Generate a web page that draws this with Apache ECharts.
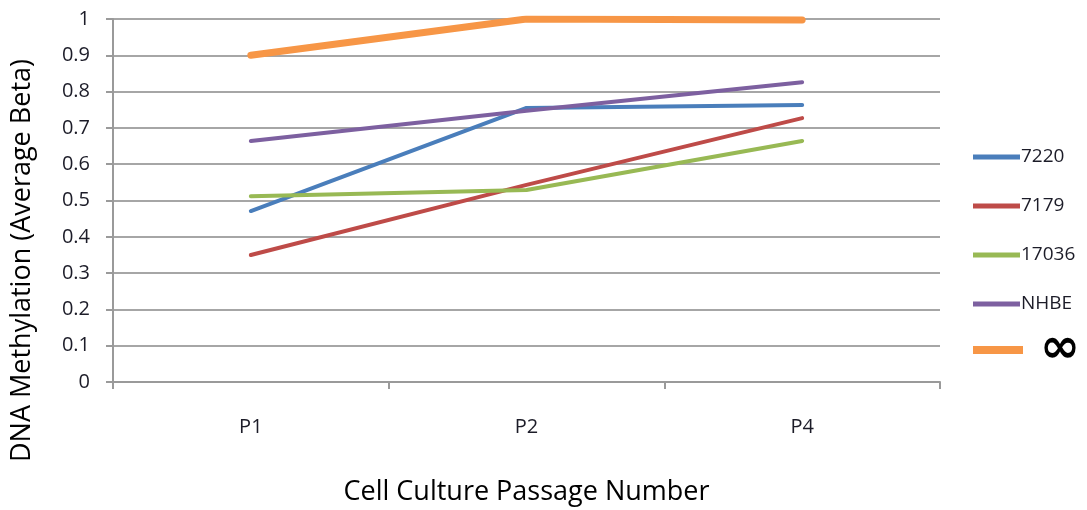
<!DOCTYPE html>
<html>
<head>
<meta charset="utf-8">
<script src="https://cdn.jsdelivr.net/npm/echarts@6/dist/echarts.min.js"></script>
<style>
  html, body { margin: 0; padding: 0; background: #fff; }
  #chart { width: 1087px; height: 510px; }
</style>
</head>
<body>
<div id="chart"></div>
<script>
// Passage categories and mean beta values per cell line
const passages = ['P1', 'P2', 'P4'];
const s7220 = [0.471, 0.755, 0.763];
const s7179 = [0.350, 0.543, 0.727];
const s17036 = [0.512, 0.529, 0.664];
const sNHBE = [0.664, 0.747, 0.826];
const sInf = [0.900, 1.000, 0.997];
const yTicks = [0, 0.1, 0.2, 0.3, 0.4, 0.5, 0.6, 0.7, 0.8, 0.9, 1];

const FONT = '"Open Sans", sans-serif';
const colors = {
  '7220': '#4a7ebb',
  '7179': '#be4b48',
  '17036': '#98b954',
  'NHBE': '#7d60a0',
  '∞': '#f79646'
};

function lineSeries(name, data, width) {
  return {
    name: name,
    type: 'line',
    data: data,
    symbol: 'none',
    color: colors[name],
    lineStyle: { color: colors[name], width: width, cap: 'round' },
    emphasis: { disabled: true },
    animation: false
  };
}

const chart = echarts.init(document.getElementById('chart'));
chart.setOption({
  backgroundColor: '#ffffff',
  animation: false,
  grid: { left: 113, right: 147, top: 19, bottom: 128, containLabel: false, outerBoundsMode: 'none' },
  xAxis: {
    type: 'category',
    data: passages,
    boundaryGap: true,
    name: 'Cell Culture Passage Number',
    nameLocation: 'middle',
    nameGap: 97,
    nameTextStyle: { fontFamily: FONT, fontSize: 27, color: '#000' },
    axisLine: { show: true, lineStyle: { color: '#9a9a9a', width: 2 } },
    axisTick: { show: true, alignWithLabel: false, length: 7, lineStyle: { color: '#9a9a9a', width: 2 } },
    axisLabel: { margin: 35, fontFamily: FONT, fontSize: 20, color: '#1c1c28' },
    splitLine: { show: false }
  },
  yAxis: {
    type: 'value',
    min: 0,
    max: 1,
    interval: 0.1,
    name: 'DNA Methylation (Average Beta)',
    nameLocation: 'middle',
    nameGap: 77,
    nameRotate: 90,
    nameTextStyle: { fontFamily: FONT, fontSize: 27, color: '#000', padding: [0, 120, 0, 0] },
    axisLine: { show: true, lineStyle: { color: '#9a9a9a', width: 2 } },
    axisTick: { show: true, length: 7, lineStyle: { color: '#9a9a9a', width: 2 } },
    axisLabel: {
      margin: 23, fontFamily: FONT, fontSize: 20, color: '#1c1c28',
      formatter: function (v) {
        const t = yTicks.find(function (k) { return Math.abs(k - v) < 1e-6; });
        return t === undefined ? '' : String(t);
      }
    },
    splitLine: { show: true, lineStyle: { color: '#a6a6a6', width: 2 } }
  },
  legend: [
    {
      orient: 'vertical',
      left: 973,
      top: 147,
      padding: 0,
      itemWidth: 47,
      itemHeight: 5,
      itemGap: 29,
      icon: 'rect',
      selectedMode: false,
      textStyle: { fontFamily: FONT, fontSize: 19, color: '#1c1c28', lineHeight: 20, padding: [0, 0, 0, -4] },
      data: ['7220', '7179', '17036', 'NHBE']
    },
    {
      orient: 'vertical',
      left: 973,
      top: 326,
      padding: 0,
      itemWidth: 50,
      itemHeight: 8,
      icon: 'rect',
      selectedMode: false,
      formatter: function (name) { return '{inf|' + name + '}'; },
      textStyle: {
        lineHeight: 20,
        rich: {
          inf: { fontFamily: '"DejaVu Sans", sans-serif', fontSize: 48, fontWeight: 'bold', color: '#000', lineHeight: 20, padding: [0, 0, 0, 12] }
        }
      },
      data: ['∞']
    }
  ],
  series: [
    lineSeries('7220', s7220, 4),
    lineSeries('7179', s7179, 4),
    lineSeries('17036', s17036, 4),
    lineSeries('NHBE', sNHBE, 4),
    lineSeries('∞', sInf, 7)
  ]
});
</script>
</body>
</html>
